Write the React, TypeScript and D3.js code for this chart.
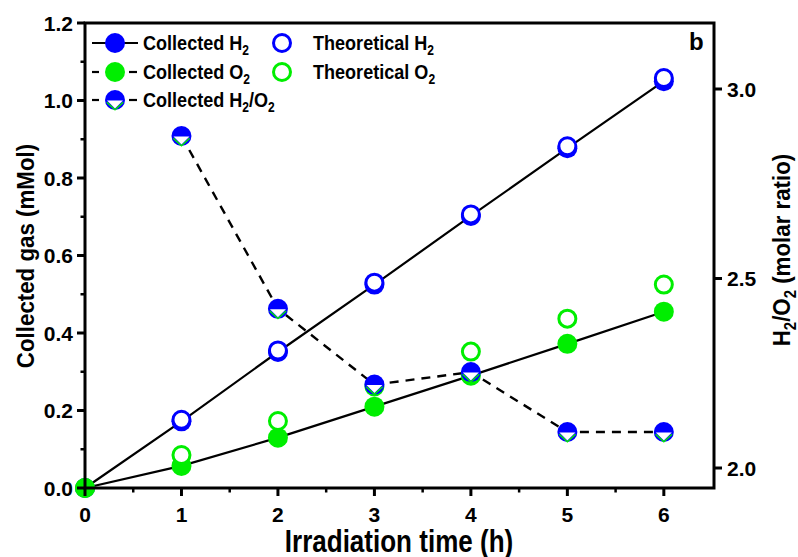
import React from "react";
import * as d3 from "d3";

const times = [0, 1, 2, 3, 4, 5, 6];
const collectedH2 = [0, 0.172, 0.351, 0.525, 0.702, 0.877, 1.05];
const theoreticalH2 = [0, 0.176, 0.355, 0.53, 0.706, 0.882, 1.058];
const collectedO2 = [0, 0.057, 0.13, 0.21, 0.29, 0.372, 0.455];
const theoreticalO2 = [0, 0.085, 0.173, 0.262, 0.352, 0.437, 0.525];
const ratioTimes = [1, 2, 3, 4, 5, 6];
const ratioH2O2 = [2.876, 2.42, 2.22, 2.253, 2.095, 2.095];
const leftTicks = [0, 0.2, 0.4, 0.6, 0.8, 1.0, 1.2];
const rightTicks = [2.0, 2.5, 3.0];
const xTicks = [0, 1, 2, 3, 4, 5, 6];

const BLUE = "#0000ff";
const GREEN = "#00ee00";
const FONT = "'Liberation Sans', Arial, sans-serif";

const L = 85, R = 714, T = 23, B = 488;

function RatioMarker({ cx, cy, r }: { cx: number; cy: number; r: number }) {
  return (
    <g transform={`translate(${cx},${cy})`}>
      <circle r={r} fill={BLUE} />
      <path d={`M${-r * 0.8},${r * 0.05} L${r * 0.8},${r * 0.05} L0,${r * 0.85} Z`} fill="white" />
      <path
        d={`M${-r * 0.82},${r * 0.22} L0,${r * 0.97} L${r * 0.82},${r * 0.22}`}
        fill="none"
        stroke={GREEN}
        strokeWidth={1.4}
      />
    </g>
  );
}

function Txt({
  x, y, size, sx = 1, rot = 0, anchor = "start", children,
}: {
  x: number; y: number; size: number; sx?: number; rot?: number; anchor?: string; children: React.ReactNode;
}) {
  return (
    <text
      transform={`translate(${x},${y}) rotate(${rot}) scale(${sx},1)`}
      fontSize={size}
      fontWeight="bold"
      textAnchor={anchor}
    >
      {children}
    </text>
  );
}

export default function App() {
  const x = d3.scaleLinear().domain([0, 6.52]).range([L, R]);
  const y = d3.scaleLinear().domain([0, 1.2]).range([B, T]);
  const y2 = d3.scaleLinear().domain([2.0, 3.0]).range([468, 89]);

  const line = d3.line<[number, number]>().x((d) => x(d[0])).y((d) => y(d[1]));
  const line2 = d3.line<[number, number]>().x((d) => x(d[0])).y((d) => y2(d[1]));

  const h2Pts: [number, number][] = times.map((t, i) => [t, collectedH2[i]]);
  const o2Pts: [number, number][] = times.map((t, i) => [t, collectedO2[i]]);
  const rPts: [number, number][] = ratioTimes.map((t, i) => [t, ratioH2O2[i]]);

  const minorLeft = d3.range(0, 1.21, 0.1).filter((v) => Math.abs(v * 5 - Math.round(v * 5)) > 0.01);
  const minorX = d3.range(0.5, 6.5, 1);

  const r = 10;
  const ro = 8.5;
  const subSize = 14;

  return (
    <svg width={798} height={557} style={{ position: "absolute", left: 0, top: 0 }} fontFamily={FONT}>
      <rect width={798} height={557} fill="white" />
      {/* lines */}
      <path d={line(h2Pts) || ""} fill="none" stroke="black" strokeWidth={2.2} />
      <path d={line(o2Pts) || ""} fill="none" stroke="black" strokeWidth={2.2} />
      <path d={line2(rPts) || ""} fill="none" stroke="black" strokeWidth={2.4} strokeDasharray="9,7" />

      {/* collected filled */}
      {times.map((t, i) => (
        <circle key={"ch" + t} cx={x(t)} cy={y(collectedH2[i])} r={r} fill={BLUE} />
      ))}
      {times.map((t, i) => (
        <circle key={"co" + t} cx={x(t)} cy={y(collectedO2[i])} r={r} fill={GREEN} />
      ))}
      {/* theoretical open markers */}
      {times.slice(1).map((t, i) => (
        <circle key={"th" + t} cx={x(t)} cy={y(theoreticalH2[i + 1])} r={ro} fill="white" stroke={BLUE} strokeWidth={3} />
      ))}
      {times.slice(1).map((t, i) => (
        <circle key={"to" + t} cx={x(t)} cy={y(theoreticalO2[i + 1])} r={ro} fill="white" stroke={GREEN} strokeWidth={3} />
      ))}
      {rPts.map((p) => (
        <RatioMarker key={"r" + p[0]} cx={x(p[0])} cy={y2(p[1])} r={r} />
      ))}
      {/* re-draw origin O2 point on top */}
      <circle cx={x(0)} cy={y(0)} r={r} fill={GREEN} />

      {/* frame */}
      <rect x={L} y={T} width={R - L} height={B - T} fill="none" stroke="black" strokeWidth={3} />

      {/* left ticks */}
      {leftTicks.map((v) => (
        <g key={"lt" + v}>
          <line x1={L - 8} x2={L} y1={y(v)} y2={y(v)} stroke="black" strokeWidth={3} />
          <Txt x={L - 12} y={y(v) + 7.5} size={21} anchor="end">{v.toFixed(1)}</Txt>
        </g>
      ))}
      {minorLeft.map((v) => (
        <line key={"lm" + v} x1={L - 4.5} x2={L} y1={y(v)} y2={y(v)} stroke="black" strokeWidth={2.5} />
      ))}
      {/* bottom ticks */}
      {xTicks.map((v) => (
        <g key={"xt" + v}>
          <line x1={x(v)} x2={x(v)} y1={B} y2={B + 8} stroke="black" strokeWidth={3} />
          <Txt x={x(v)} y={B + 34} size={21} anchor="middle">{v}</Txt>
        </g>
      ))}
      {minorX.map((v) => (
        <line key={"xm" + v} x1={x(v)} x2={x(v)} y1={B} y2={B + 4.5} stroke="black" strokeWidth={2.5} />
      ))}
      {/* right ticks */}
      {rightTicks.map((v) => (
        <g key={"rt" + v}>
          <line x1={R} x2={R + 8} y1={y2(v)} y2={y2(v)} stroke="black" strokeWidth={3} />
          <Txt x={R + 13} y={y2(v) + 7.5} size={21}>{v.toFixed(1)}</Txt>
        </g>
      ))}

      {/* axis titles */}
      <Txt x={399} y={552} size={31} sx={0.84} anchor="middle">Irradiation time (h)</Txt>
      <Txt x={34} y={256} size={24} sx={0.93} rot={-90} anchor="middle">Collected gas (mMol)</Txt>
      <Txt x={790} y={250} size={24} sx={0.93} rot={-90} anchor="middle">
        H<tspan dy={6} fontSize={16}>2</tspan>
        <tspan dy={-6}>/O</tspan>
        <tspan dy={6} fontSize={16}>2</tspan>
        <tspan dy={-6}> (molar ratio)</tspan>
      </Txt>
      <Txt x={689} y={50} size={24}>b</Txt>

      {/* legend */}
      <line x1={92} x2={138} y1={43} y2={43} stroke="black" strokeWidth={2.2} />
      <circle cx={115} cy={43} r={r} fill={BLUE} />
      <Txt x={143} y={50} size={21} sx={0.86}>Collected H<tspan dy={5} fontSize={subSize}>2</tspan></Txt>

      <line x1={92} x2={99} y1={72} y2={72} stroke="black" strokeWidth={2.2} />
      <line x1={129} x2={137} y1={72} y2={72} stroke="black" strokeWidth={2.2} />
      <circle cx={115} cy={72} r={r} fill={GREEN} />
      <Txt x={143} y={79} size={21} sx={0.86}>Collected O<tspan dy={5} fontSize={subSize}>2</tspan></Txt>

      <line x1={92} x2={99} y1={100} y2={100} stroke="black" strokeWidth={2.2} />
      <line x1={129} x2={137} y1={100} y2={100} stroke="black" strokeWidth={2.2} />
      <RatioMarker cx={115} cy={100} r={r} />
      <Txt x={143} y={107} size={21} sx={0.86}>
        Collected H<tspan dy={5} fontSize={subSize}>2</tspan>
        <tspan dy={-5}>/O</tspan>
        <tspan dy={5} fontSize={subSize}>2</tspan>
      </Txt>

      <circle cx={282} cy={43} r={ro} fill="white" stroke={BLUE} strokeWidth={3} />
      <Txt x={313} y={50} size={21} sx={0.86}>Theoretical H<tspan dy={5} fontSize={subSize}>2</tspan></Txt>
      <circle cx={282} cy={72} r={ro} fill="white" stroke={GREEN} strokeWidth={3} />
      <Txt x={313} y={79} size={21} sx={0.86}>Theoretical O<tspan dy={5} fontSize={subSize}>2</tspan></Txt>
    </svg>
  );
}
